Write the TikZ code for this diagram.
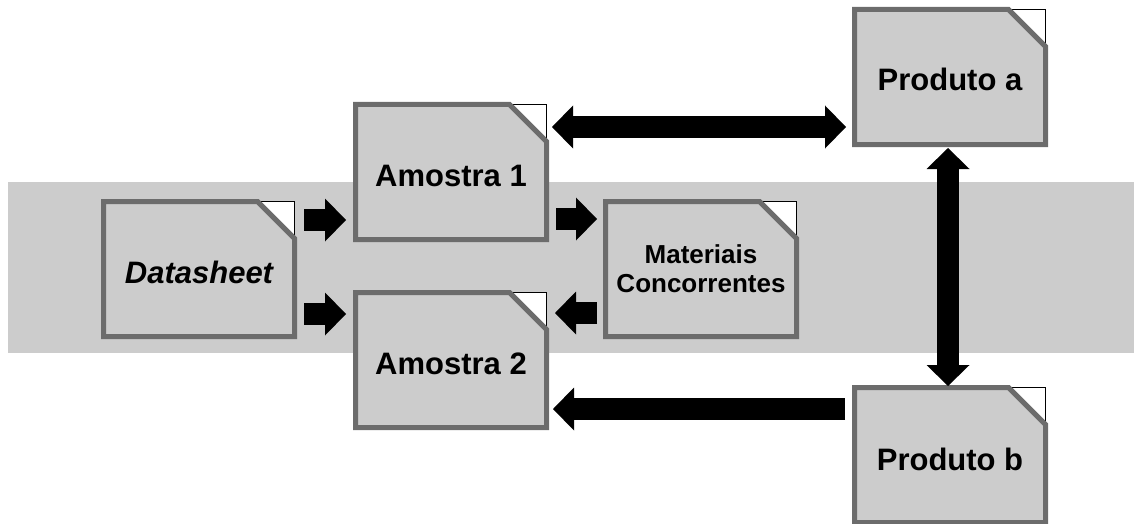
\documentclass[tikz,border=0pt]{standalone}
\usepackage{fontspec}
\setmainfont{Liberation Sans}
\usetikzlibrary{arrows.meta,calc,backgrounds}
\definecolor{boxfill}{RGB}{204,204,204}
\definecolor{boxline}{RGB}{108,108,108}
\begin{document}
\begin{tikzpicture}[x=1pt,y=-1pt,
  doc/.style={minimum width=191pt, minimum height=135pt, inner sep=0pt, outer sep=0pt,
    font=\bfseries\fontsize{31}{36}\selectfont, align=center, text height=28pt, text depth=0pt},
  docshape/.style={fill=boxfill, draw=boxline, line width=5pt, line join=miter},
  fold/.style={fill=white, draw=black, line width=0.8pt},
  blk/.style={line width=22pt, -{Triangle[width=43pt,length=21pt,line width=0pt]}},
  dblk/.style={line width=22pt, {Triangle[width=43pt,length=21pt,line width=0pt]}-{Triangle[width=43pt,length=21pt,line width=0pt]}}
]
\useasboundingbox (0,0) rectangle (1134,524);

\node[doc] (ds) at (199,269) {\itshape Datasheet};
\node[doc] (a1) at (451,172) {Amostra 1};
\node[doc] (a2) at (451,360) {Amostra 2};
\node[doc, font=\bfseries\fontsize{26}{29}\selectfont, text height=, text depth=] (mc) at (701,269) {Materiais\\Concorrentes};
\node[doc] (pa) at (950,77) {Produto a};
\node[doc, text height=31pt] (pb) at (950,455) {Produto b};

\begin{scope}[on background layer]
  \fill[boxfill] (8,182) rectangle (1134,353);
  \foreach \n in {ds,a1,a2,mc,pa,pb}{
    \filldraw[fold] ([xshift=-37pt]\n.north east) -- (\n.north east) -- ([yshift=-37pt]\n.north east) -- cycle;
    \draw[docshape] (\n.north west) -- ([xshift=-37pt]\n.north east) -- ([yshift=-37pt]\n.north east)
      -- (\n.south east) -- (\n.south west) -- cycle;
  }
\end{scope}

\draw[blk] ($(ds.east)+(9.5,-49)$) -- ($(a1.west)+(-9.5,48)$);
\draw[blk] ($(ds.east)+(9.5,45)$) -- ($(a2.west)+(-9.5,-46)$);
\draw[blk] ($(a1.east)+(9.5,47)$) -- ($(mc.west)+(-8.5,-50)$);
\draw[blk] ($(mc.west)+(-8.5,44)$) -- ($(a2.east)+(8.5,-47)$);
\draw[dblk] ($(a1.east)+(5.5,-45)$) -- ($(pa.west)+(-8.5,50)$);
\draw[dblk] ($(pa.south)+(-2,3.5)$) -- ($(pb.north)+(-2,-1.5)$);
\draw[blk] ($(pb.west)+(-9.5,-46)$) -- ($(a2.east)+(6.5,49)$);
\end{tikzpicture}
\end{document}
